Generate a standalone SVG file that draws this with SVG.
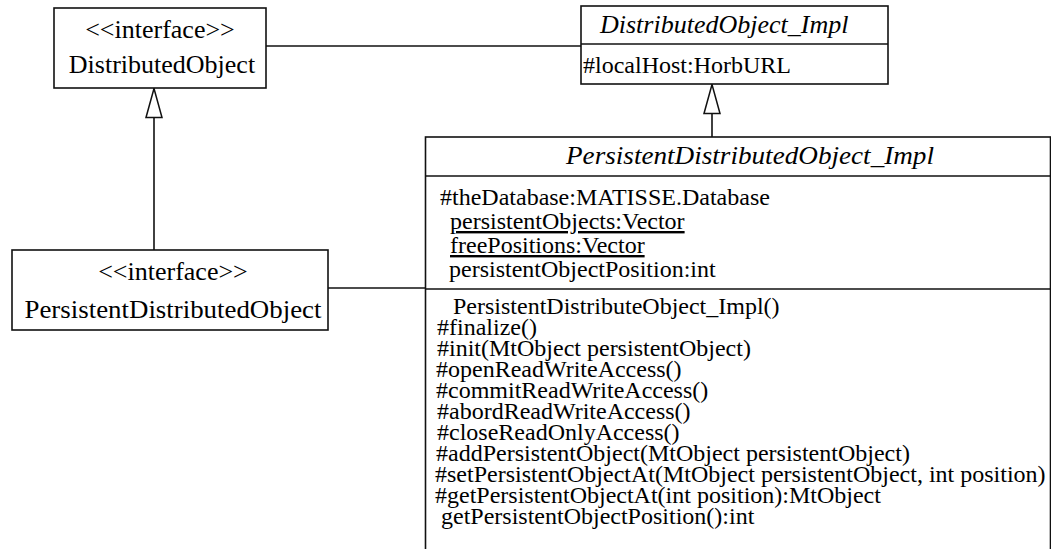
<svg xmlns="http://www.w3.org/2000/svg" width="1051" height="549" viewBox="0 0 1051 549">
<style>
text{font-family:"Liberation Serif","Times New Roman",serif;fill:#000}
.t24{font-size:24px}
.t26{font-size:26px}
.it{font-style:italic}
.u{text-decoration:underline}
.box{fill:#fff;stroke:#111;stroke-width:1.6}
.ln{stroke:#111;stroke-width:1.6;fill:none}
</style>
<defs>
<marker id="gen" markerUnits="userSpaceOnUse" viewBox="0 0 31 18" refX="30" refY="9" markerWidth="31" markerHeight="18" orient="auto">
<path d="M1,1 L30,9 L1,17 Z" fill="#fff" stroke="#111" stroke-width="1.5"/>
</marker>
</defs>
<rect width="1051" height="549" fill="#fff"/>
<g id="connectors">
<line class="ln" x1="266" y1="46" x2="581" y2="46"/>
<line class="ln" x1="328" y1="288" x2="425" y2="288"/>
<line class="ln" x1="154" y1="250" x2="154" y2="88.5" marker-end="url(#gen)"/>
<line class="ln" x1="712" y1="137" x2="712" y2="84.5" marker-end="url(#gen)"/>
</g>
<g id="DistributedObject">
<rect class="box" x="54" y="8" width="212" height="80"/>
<text class="t26" x="160" y="38" text-anchor="middle">&lt;&lt;interface&gt;&gt;</text>
<text class="t26" x="162" y="73" text-anchor="middle">DistributedObject</text>
</g>
<g id="PersistentDistributedObject">
<rect class="box" x="12" y="250" width="316" height="80"/>
<text class="t26" x="173" y="280" text-anchor="middle">&lt;&lt;interface&gt;&gt;</text>
<text class="t26" x="173" y="318" text-anchor="middle" textLength="297" lengthAdjust="spacingAndGlyphs">PersistentDistributedObject</text>
</g>
<g id="DistributedObject_Impl">
<rect class="box" x="581" y="6" width="307" height="78"/>
<line class="ln" x1="581" y1="44" x2="888" y2="44"/>
<text class="t26 it" x="600" y="33">DistributedObject_Impl</text>
<text class="t24" x="583" y="73">#localHost:HorbURL</text>
</g>
<g id="PersistentDistributedObject_Impl">
<rect class="box" x="425.5" y="137" width="625" height="450"/>
<line class="ln" x1="425.5" y1="176" x2="1050.5" y2="176"/>
<line class="ln" x1="425.5" y1="289" x2="1050.5" y2="289"/>
<text class="t26 it" x="566" y="164" textLength="368" lengthAdjust="spacingAndGlyphs">PersistentDistributedObject_Impl</text>
<text class="t24" x="440" y="205">#theDatabase:MATISSE.Database</text>
<text class="t24 u" x="450" y="229">persistentObjects:Vector</text>
<text class="t24 u" x="450" y="253">freePositions:Vector</text>
<text class="t24" x="449" y="277">persistentObjectPosition:int</text>
<text class="t24" x="453" y="314">PersistentDistributeObject_Impl()</text>
<text class="t24" x="437" y="335">#finalize()</text>
<text class="t24" x="437" y="356">#init(MtObject persistentObject)</text>
<text class="t24" x="436" y="377">#openReadWriteAccess()</text>
<text class="t24" x="436" y="398">#commitReadWriteAccess()</text>
<text class="t24" x="437" y="419">#abordReadWriteAccess()</text>
<text class="t24" x="437" y="440">#closeReadOnlyAccess()</text>
<text class="t24" x="436" y="461">#addPersistentObject(MtObject persistentObject)</text>
<text class="t24" x="435" y="482">#setPersistentObjectAt(MtObject persistentObject, int position)</text>
<text class="t24" x="435" y="503">#getPersistentObjectAt(int position):MtObject</text>
<text class="t24" x="441" y="524">getPersistentObjectPosition():int</text>
</g>
</svg>
